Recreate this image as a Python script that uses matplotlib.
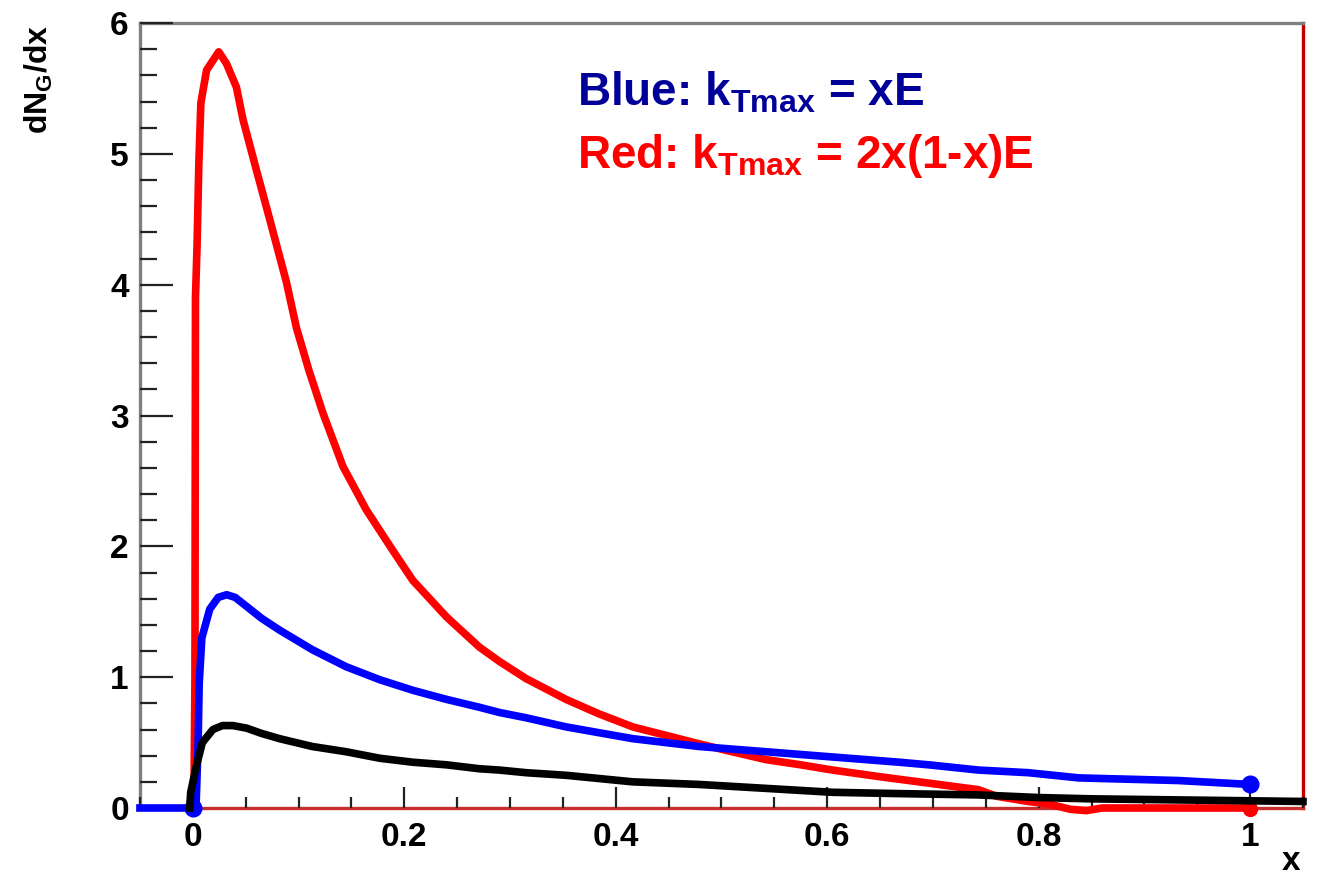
import numpy as np
import matplotlib
matplotlib.use("Agg")
import matplotlib.pyplot as plt
from matplotlib.ticker import MultipleLocator, FixedLocator, FixedFormatter

plt.rcParams['font.family'] = ['Liberation Sans', 'DejaVu Sans']
plt.rcParams['font.weight'] = 'bold'
plt.rcParams['mathtext.fontset'] = 'custom'
plt.rcParams['mathtext.rm'] = 'Liberation Sans:bold'
plt.rcParams['mathtext.bf'] = 'Liberation Sans:bold'
plt.rcParams['mathtext.it'] = 'Liberation Sans:bold'

# gluon spectrum dN_G/dx, red: kTmax = 2x(1-x)E
x_red = [0.001, 0.002, 0.0025, 0.004, 0.0057, 0.0076, 0.013, 0.0245, 0.0318, 0.0412,
         0.0475, 0.060, 0.0727, 0.0885, 0.098, 0.110, 0.123, 0.142, 0.164, 0.189,
         0.208, 0.240, 0.271, 0.290, 0.315, 0.353, 0.384, 0.416, 0.450, 0.479,
         0.510, 0.542, 0.575, 0.605, 0.649, 0.696, 0.743, 0.760, 0.790, 0.810,
         0.830, 0.845, 0.860, 1.000]
y_red = [0.0, 1.0, 3.9, 4.3, 4.93, 5.39, 5.64, 5.78, 5.69, 5.51,
         5.26, 4.88, 4.50, 4.02, 3.67, 3.34, 3.02, 2.61, 2.28, 1.97,
         1.74, 1.46, 1.23, 1.12, 0.99, 0.83, 0.72, 0.62, 0.55, 0.49,
         0.43, 0.37, 0.33, 0.29, 0.24, 0.19, 0.14, 0.09, 0.05, 0.03,
         -0.01, -0.02, 0.0, 0.0]

# blue: kTmax = xE
x_blue = [-0.05, 0.0, 0.003, 0.005, 0.006, 0.0085, 0.016, 0.024, 0.032, 0.040,
          0.051, 0.065, 0.082, 0.113, 0.145, 0.177, 0.208, 0.240, 0.271, 0.290,
          0.315, 0.353, 0.416, 0.479, 0.542, 0.605, 0.668, 0.696, 0.743, 0.790,
          0.838, 0.932, 1.000]
y_blue = [0.0, 0.0, 0.0, 0.5, 0.95, 1.30, 1.52, 1.61, 1.63, 1.61,
          1.54, 1.45, 1.36, 1.21, 1.08, 0.98, 0.90, 0.83, 0.77, 0.73,
          0.69, 0.62, 0.53, 0.47, 0.43, 0.39, 0.35, 0.33, 0.29, 0.27,
          0.23, 0.21, 0.18]

# black reference curve
x_black = [-0.003, -0.002, 0.003, 0.009, 0.019, 0.028, 0.038, 0.051, 0.065,
           0.082, 0.113, 0.145, 0.177, 0.208, 0.240, 0.271, 0.290, 0.315, 0.353,
           0.416, 0.479, 0.542, 0.605, 0.668, 0.743, 0.800, 0.850, 0.950, 1.050]
y_black = [0.0, 0.12, 0.31, 0.50, 0.60, 0.63, 0.63, 0.61, 0.57,
           0.53, 0.47, 0.43, 0.38, 0.35, 0.33, 0.30, 0.29, 0.27, 0.25,
           0.20, 0.18, 0.15, 0.12, 0.11, 0.10, 0.08, 0.07, 0.06, 0.05]

# end points drawn as dots
blue_dots_x = [0.0, 1.0]
blue_dots_y = [0.0, 0.18]
red_dots_x = [1.0]
red_dots_y = [-0.01]

xtick_vals = [0, 0.2, 0.4, 0.6, 0.8, 1.0]
xtick_labels = ["0", "0.2", "0.4", "0.6", "0.8", "1"]

fig = plt.figure(figsize=(13.18, 8.82), dpi=100)
ax = fig.add_axes([0.1062, 0.0839, 0.8824, 0.89])

ax.plot(red_dots_x, red_dots_y, 'o', color='#ff0000', ms=10, clip_on=False, zorder=2)
ax.plot(x_red, y_red, color='#ff0000', lw=5.5, clip_on=False, zorder=3,
        solid_joinstyle='round')
ax.plot(x_blue, y_blue, color='#0000ff', lw=5.5, clip_on=False, zorder=4,
        solid_joinstyle='round')
ax.plot(blue_dots_x, blue_dots_y, 'o', color='#0000ff', ms=12, clip_on=False, zorder=4)
ax.plot(x_black, y_black, color='black', lw=5.5, clip_on=False, zorder=5,
        solid_joinstyle='round')

ax.set_xlim(-0.05, 1.05)
ax.set_ylim(0, 6)

ax.xaxis.set_major_locator(FixedLocator(xtick_vals))
ax.xaxis.set_major_formatter(FixedFormatter(xtick_labels))
ax.xaxis.set_minor_locator(MultipleLocator(0.05))
ax.yaxis.set_major_locator(MultipleLocator(1))
ax.yaxis.set_minor_locator(MultipleLocator(0.2))

ax.tick_params(axis='x', which='major', direction='in', length=15, width=1.6,
               color='#222222', labelsize=24, pad=10)
ax.tick_params(axis='x', which='minor', direction='in', length=8, width=1.6,
               color='#222222')
ax.tick_params(axis='y', which='major', direction='in', length=24, width=1.6,
               color='#222222', labelsize=24, pad=8)
ax.tick_params(axis='y', which='minor', direction='in', length=12, width=1.6,
               color='#222222')

ax.spines['left'].set_color('#7f7f7f')
ax.spines['top'].set_color('#7f7f7f')
ax.spines['right'].set_color('#c00000')
ax.spines['bottom'].set_color('#c83030')
for s in ax.spines.values():
    s.set_linewidth(2.4)
    s.set_zorder(1)

fig.text(0.017, 0.972, r'dN$_{\mathrm{G}}$/dx', rotation=90, ha='left', va='top',
         fontsize=23, fontweight='bold')
fig.text(0.987, 0.014, 'x', ha='right', va='baseline', fontsize=24, fontweight='bold')

ax.text(0.363, 5.37, r'Blue: k$_{\mathrm{Tmax}}$ = xE', color='#000099',
        fontsize=33, fontweight='bold', va='baseline', ha='left')
ax.text(0.363, 4.89, r'Red: k$_{\mathrm{Tmax}}$ = 2x(1-x)E', color='#ff0000',
        fontsize=33, fontweight='bold', va='baseline', ha='left')

fig.savefig("out.png", dpi=100)
